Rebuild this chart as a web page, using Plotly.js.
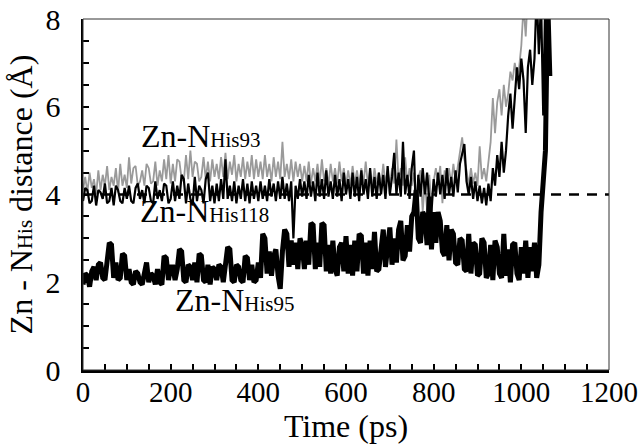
<!DOCTYPE html>
<html>
<head>
<meta charset="utf-8">
<script src="https://cdn.plot.ly/plotly-3.0.1.min.js"></script>
<style>
  body { margin: 0; background: white; }
  #myPlot { width: 640px; height: 447px; }
</style>
</head>
<body>
<div id="myPlot"></div>
<script>
// Zn - N(His) distances along the trajectory, one sample every 5 ps
var timeStart = 0;
var timeStep = 5;

// Zn-N His93 (grey), 0 .. 1030 ps
var his93 = [
    4.1, 4.4, 4.05, 4.5, 4.15, 4.35, 4.0, 4.55, 4.1, 4.45, 4.2, 4.65, 4.1, 4.4, 4.2, 4.6, 4.05, 4.7, 4.2, 4.45, 4.15,
    4.85, 4.25, 4.6, 4.65, 4.2, 4.3, 4.55, 4.2, 4.7, 4.6, 4.25, 4.3, 4.75, 4.2, 4.55, 4.3, 4.8, 4.35, 4.9, 4.25,
    4.7, 4.3, 4.8, 4.75, 4.35, 4.3, 4.9, 4.35, 5.0, 4.4, 4.75, 4.7, 4.3, 4.4, 4.85, 4.35, 4.75, 4.3, 4.8, 4.4,
    4.7, 4.35, 4.85, 4.4, 4.95, 4.35, 4.75, 4.45, 4.9, 4.3, 4.7, 4.4, 4.85, 4.35, 4.75, 4.4, 4.9, 4.35, 4.8, 4.4,
    4.75, 4.35, 4.9, 4.4, 4.7, 4.3, 4.85, 4.4, 4.75, 4.35, 5.2, 4.4, 4.7, 4.35, 4.8, 4.3, 4.75, 4.4, 4.7, 4.3,
    4.65, 4.3, 4.75, 4.25, 4.6, 4.3, 4.7, 4.25, 4.8, 4.3, 4.6, 4.2, 4.7, 4.3, 4.6, 4.25, 4.75, 4.3, 4.6, 4.2,
    4.55, 4.2, 4.65, 4.25, 4.55, 4.2, 4.6, 4.25, 4.75, 4.2, 4.55, 4.15, 4.6, 4.25, 4.5, 4.2, 4.7, 4.25, 4.55, 4.2,
    4.6, 4.25, 5.25, 4.3, 4.6, 4.2, 4.85, 4.25, 4.6, 4.2, 4.5, 3.7, 4.4, 4.55, 3.6, 4.3, 3.65, 4.45, 3.75, 4.3,
    4.6, 4.25, 4.65, 3.8, 4.55, 4.2, 4.6, 4.25, 4.7, 4.3, 4.65, 5.0, 5.3, 4.8, 4.55, 4.2, 4.6, 4.25, 4.5, 4.2,
    5.1, 4.35, 4.6, 4.3, 4.7, 5.2, 6.2, 5.4, 6.1, 6.4, 5.8, 6.5, 6.0, 6.3, 6.8, 6.6, 7.0, 6.7, 6.9, 7.4,
    8.3, 7.6, 8.6, 8.4, 9.0, 8.8
];

// Zn-N His118 (thin black), 0 .. 1065 ps
var his118 = [
    3.85, 4.15, 4.1, 3.8, 3.85, 4.2, 3.75, 4.1, 4.05, 3.9, 4.25, 3.8, 3.85, 4.15, 3.75, 4.2, 4.1, 3.85, 3.8, 4.15, 3.9,
    4.2, 3.85, 3.8, 4.15, 4.25, 3.9, 4.1, 3.8, 4.2, 4.15, 3.85, 3.8, 4.3, 3.9, 4.1, 3.85, 4.25, 4.2, 3.8, 3.9,
    4.3, 3.85, 4.2, 3.9, 4.45, 4.35, 3.8, 4.25, 3.9, 3.75, 4.4, 3.85, 4.2, 4.1, 3.8, 4.35, 4.5, 3.85, 4.2, 3.8,
    4.25, 3.85, 4.35, 3.9, 4.8, 3.9, 4.2, 3.85, 4.3, 3.8, 4.2, 3.9, 4.35, 3.85, 4.25, 3.8, 4.3, 3.9, 4.2, 3.85,
    4.3, 3.9, 4.2, 3.85, 4.35, 3.95, 4.25, 3.85, 4.3, 3.9, 4.4, 3.9, 4.25, 3.85, 4.3, 3.0, 4.2, 3.9, 4.35, 3.95,
    4.3, 3.9, 4.45, 3.95, 4.3, 3.85, 4.5, 3.95, 4.35, 3.9, 4.55, 3.95, 4.3, 3.9, 4.45, 3.95, 4.35, 3.85, 4.5, 4.0,
    4.35, 3.9, 4.5, 3.95, 4.4, 3.85, 4.55, 4.0, 4.35, 3.9, 4.6, 3.95, 4.4, 3.9, 4.5, 4.0, 4.45, 3.9, 4.65, 4.0,
    4.4, 4.95, 4.0, 4.5, 3.95, 5.2, 4.0, 4.45, 3.9, 4.6, 5.0, 3.4, 4.45, 3.95, 4.6, 4.0, 4.5, 3.9, 3.6, 4.35,
    3.95, 4.5, 4.0, 4.45, 3.9, 4.6, 4.0, 4.4, 3.95, 4.55, 4.05, 4.7, 4.9, 5.15, 4.3, 4.0, 4.4, 3.9, 4.3, 3.85,
    4.2, 3.8, 4.15, 3.75, 4.25, 3.85, 4.6, 4.2, 4.9, 4.4, 5.2, 4.5, 5.0, 5.8, 6.3, 5.5, 6.2, 6.9, 6.4, 7.1,
    6.6, 5.4, 6.9, 7.3, 6.5, 7.1, 8.6, 7.2, 8.4, 5.8, 8.7, 7.1, 8.9
];

// Zn-N His95 (thick black), 0 .. 1065 ps
var his95 = [
    1.95, 2.2, 2.15, 1.9, 2.25, 2.35, 2.05, 2.4, 2.45, 2.1, 2.05, 2.4, 2.9, 2.85, 2.1, 2.45, 2.05, 2.1, 2.65, 2.6, 2.05,
    2.3, 2.0, 1.95, 2.25, 2.2, 2.0, 1.95, 2.25, 2.45, 2.0, 2.2, 2.15, 1.95, 2.3, 2.0, 1.95, 2.6, 2.55, 2.05, 2.35,
    2.35, 2.05, 2.3, 2.75, 2.7, 2.05, 2.0, 2.4, 2.35, 2.05, 2.45, 2.0, 2.65, 2.6, 2.05, 2.0, 2.4, 1.95, 2.35, 2.3,
    2.05, 2.4, 2.35, 2.0, 2.45, 2.8, 2.75, 2.05, 2.0, 2.4, 2.35, 2.05, 2.0, 2.6, 2.55, 2.05, 2.4, 2.0, 2.05, 2.45,
    2.1, 3.1, 3.0, 2.2, 2.7, 2.15, 2.6, 2.75, 2.15, 1.85, 2.7, 3.2, 3.1, 2.35, 2.95, 2.4, 2.9, 2.3, 3.0, 2.85,
    2.3, 2.95, 2.4, 3.35, 3.3, 2.3, 2.9, 2.35, 3.35, 3.3, 2.25, 2.85, 2.2, 2.95, 2.3, 2.15, 2.8, 2.9, 2.25, 3.05,
    2.2, 2.85, 2.15, 2.95, 2.25, 3.1, 3.05, 2.2, 2.9, 2.15, 2.95, 2.3, 3.15, 2.25, 2.3, 2.85, 3.2, 2.35, 2.95, 3.25,
    2.4, 3.0, 2.45, 3.2, 3.4, 2.5, 2.6, 3.3, 2.7, 3.5, 3.6, 4.1, 3.0, 2.9, 3.6, 3.5, 2.85, 3.95, 2.75, 3.6,
    2.9, 3.6, 3.4, 2.7, 2.6, 3.3, 2.5, 3.2, 3.1, 2.45, 2.4, 3.0, 2.95, 2.3, 2.25, 3.1, 2.2, 2.9, 2.85, 2.15,
    2.2, 3.0, 2.9, 2.1, 2.2, 2.85, 2.05, 2.95, 2.8, 2.2, 2.1, 3.1, 2.15, 2.75, 2.0, 2.85, 2.9, 2.2, 2.05, 2.8,
    2.2, 2.95, 2.1, 2.8, 2.25, 2.9, 2.1, 2.4, 3.6, 4.3, 5.0, 8.5, 6.7
];

// reference distance drawn as the dashed line
var cutoff = 4;

var labelNames = ['His93', 'His118', 'His95'];
var labelX = [270, 278, 347];
var labelY = [5.33, 3.62, 1.6];

var serif = '"Liberation Serif", "DejaVu Serif", serif';

function drawPlot() {
    var traceHis93 = {
        y: his93, x0: timeStart, dx: timeStep,
        type: 'scatter', mode: 'lines',
        line: {color: '#9a9a9a', width: 1.8},
        hoverinfo: 'skip'
    };
    var traceHis118 = {
        y: his118, x0: timeStart, dx: timeStep,
        type: 'scatter', mode: 'lines',
        line: {color: 'black', width: 2.2},
        hoverinfo: 'skip'
    };
    var traceHis95 = {
        y: his95, x0: timeStart, dx: timeStep,
        type: 'scatter', mode: 'lines',
        line: {color: 'black', width: 5},
        hoverinfo: 'skip'
    };

    var annotations = [];
    for (var i = 0; i < labelNames.length; i++) {
        annotations.push({
            x: labelX[i], y: labelY[i], xref: 'x', yref: 'y',
            text: 'Zn-N<span style="font-size:21px">' + labelNames[i] + '</span>',
            showarrow: false,
            font: {family: serif, size: 32, color: 'black'}
        });
    }

    var layout = {
        width: 640,
        height: 447,
        margin: {l: 83, r: 31, t: 19, b: 77},
        paper_bgcolor: 'white',
        plot_bgcolor: 'white',
        showlegend: false,
        font: {family: serif, color: 'black'},
        xaxis: {
            range: [0, 1200],
            dtick: 200,
            ticks: 'inside', ticklen: 6, tickwidth: 2, tickcolor: 'black',
            minor: {dtick: 50, ticks: 'inside', ticklen: 6, tickwidth: 2, tickcolor: 'black'},
            showline: true, linewidth: 2.5, linecolor: 'black',
            showgrid: false, zeroline: false,
            tickfont: {family: serif, size: 29, color: 'black'},
            ticklabelstandoff: -5,
            title: {text: 'Time (ps)', font: {family: serif, size: 32, color: 'black'}, standoff: 6}
        },
        yaxis: {
            range: [0, 8],
            dtick: 2,
            ticks: 'inside', ticklen: 6, tickwidth: 2, tickcolor: 'black',
            minor: {dtick: 0.5, ticks: 'inside', ticklen: 6, tickwidth: 2, tickcolor: 'black'},
            showline: true, linewidth: 2.5, linecolor: 'black',
            showgrid: false, zeroline: false,
            tickfont: {family: serif, size: 30, color: 'black'},
            ticklabelstandoff: 14,
            title: {
                text: 'Zn - N<span style="font-size:21px">His</span> distance (Å)',
                font: {family: serif, size: 32, color: 'black'}, standoff: 4
            }
        },
        shapes: [
            {   // dashed reference line at 4 Å
                type: 'line', xref: 'paper', yref: 'y',
                x0: 0, x1: 1, y0: cutoff, y1: cutoff,
                line: {color: 'black', width: 2.5, dash: '10px,8px'},
                layer: 'below'
            },
            {   // thin frame on top and right
                type: 'rect', xref: 'paper', yref: 'paper',
                x0: 0, x1: 1, y0: 0, y1: 1,
                line: {color: '#333', width: 1}
            }
        ],
        annotations: annotations
    };

    Plotly.newPlot('myPlot', [traceHis93, traceHis118, traceHis95], layout, {staticPlot: true});
}

drawPlot();
</script>
</body>
</html>
